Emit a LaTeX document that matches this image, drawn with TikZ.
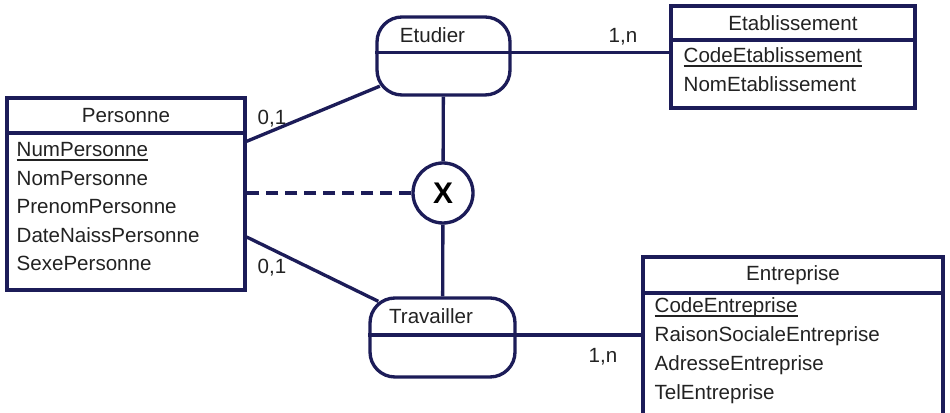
\documentclass[tikz,border=0pt]{standalone}
\usepackage{fontspec}
\setmainfont{Liberation Sans}
\usetikzlibrary{positioning,calc}

\definecolor{navy}{RGB}{28,28,88}
\definecolor{ink}{RGB}{34,34,34}
\newcommand{\pkey}[1]{\setbox0\hbox{#1}\rlap{\rule[-2.4pt]{\wd0}{1.3pt}}\box0}

\begin{document}
\begin{tikzpicture}[
  font=\fontsize{11.7}{14}\selectfont,
  text=ink,
  line width=1.9pt,
  ent/.style={rectangle, draw=navy, line width=1.9pt, inner sep=0pt},
  rel/.style={rectangle, draw=navy, line width=1.9pt, rounded corners=0.5cm, inner sep=0pt},
  attr/.style={anchor=base west, inner sep=0pt},
  card/.style={inner sep=1pt},
  link/.style={draw=navy, line width=1.9pt},
]

\useasboundingbox (0,0) rectangle (19,8.26);

% entities
\node[ent, minimum width=4.76cm, minimum height=0.70cm] (persH) at (2.52,5.95) {Personne};
\node[ent, minimum width=4.76cm, minimum height=3.14cm] (persB) at (2.52,4.03) {};
\node[ent, minimum width=4.88cm, minimum height=0.68cm] (etabH) at (15.86,7.80) {Etablissement};
\node[ent, minimum width=4.88cm, minimum height=1.36cm] (etabB) at (15.86,6.78) {};
\node[ent, minimum width=6.00cm, minimum height=0.72cm] (entrH) at (15.86,2.76) {Entreprise};
\node[ent, minimum width=6.00cm, minimum height=2.64cm] (entrB) at (15.86,1.08) {};

% attributes
\node[attr] (numPers)  at (0.30,5.12) {\pkey{NumPersonne}};
\node[attr] (nomPers)  at (0.30,4.55) {NomPersonne};
\node[attr] (prenPers) at (0.30,3.98) {PrenomPersonne};
\node[attr] (datePers) at (0.30,3.41) {DateNaissPersonne};
\node[attr] (sexePers) at (0.30,2.84) {SexePersonne};
\node[attr] (codeEtab) at (13.64,7.00) {\pkey{CodeEtablissement}};
\node[attr] (nomEtab)  at (13.64,6.42) {NomEtablissement};
\node[attr] (codeEntr) at (13.06,2.00) {\pkey{CodeEntreprise}};
\node[attr] (raisEntr) at (13.06,1.42) {RaisonSocialeEntreprise};
\node[attr] (adrEntr)  at (13.06,0.84) {AdresseEntreprise};
\node[attr] (telEntr)  at (13.06,0.26) {TelEntreprise};

% associations
\node[rel, minimum width=2.66cm, minimum height=1.56cm] (etud) at (8.87,7.14) {};
\node (etudL) at (8.65,7.56) {Etudier};
\node[rel, minimum width=2.90cm, minimum height=1.58cm] (trav) at (8.85,1.51) {};
\node (travL) at (8.62,1.94) {Travailler};
\coordinate (etudDivL) at ($(etud.north west)!0.46!(etud.south west)$);
\coordinate (etudDivR) at ($(etud.north east)!0.46!(etud.south east)$);
\coordinate (travDivL) at ($(trav.north west)!0.47!(trav.south west)$);
\coordinate (travDivR) at ($(trav.north east)!0.47!(trav.south east)$);
\draw[link] (etudDivL) -- (etudDivR);
\draw[link] (travDivL) -- (travDivR);

% exclusion constraint
\node[circle, draw=navy, line width=1.9pt, fill=white, minimum size=1.2cm, inner sep=0pt,
      font=\fontsize{17}{20}\selectfont\bfseries, text=black] (excl) at (8.86,4.40) {X};

% links
\draw[link] ([yshift=-0.2cm]persB.north east) -- ([shift={(0.09,0.21)}]etud.south west);
\draw[link] ([yshift=-0.51cm]persB.east) -- ([shift={(0.20,-0.10)}]trav.north west);
\draw[link] (etudDivR) -- (etudDivR -| etabB.west);
\draw[link] (travDivR) -- (travDivR -| entrB.west);
\draw[link] (etud) -- (excl);
\draw[link] (excl) -- (trav);
\draw[link, dash pattern=on 0.24cm off 0.14cm] (excl.west) -- (excl.west -| persB.east);

% cardinalities
\node[card] (cardPE) at (5.44,5.88) {0,1};
\node[card] (cardPT) at (5.44,2.90) {0,1};
\node[card] (cardEE) at (12.46,7.52) {1,n};
\node[card] (cardTE) at (12.06,1.12) {1,n};

\end{tikzpicture}
\end{document}
